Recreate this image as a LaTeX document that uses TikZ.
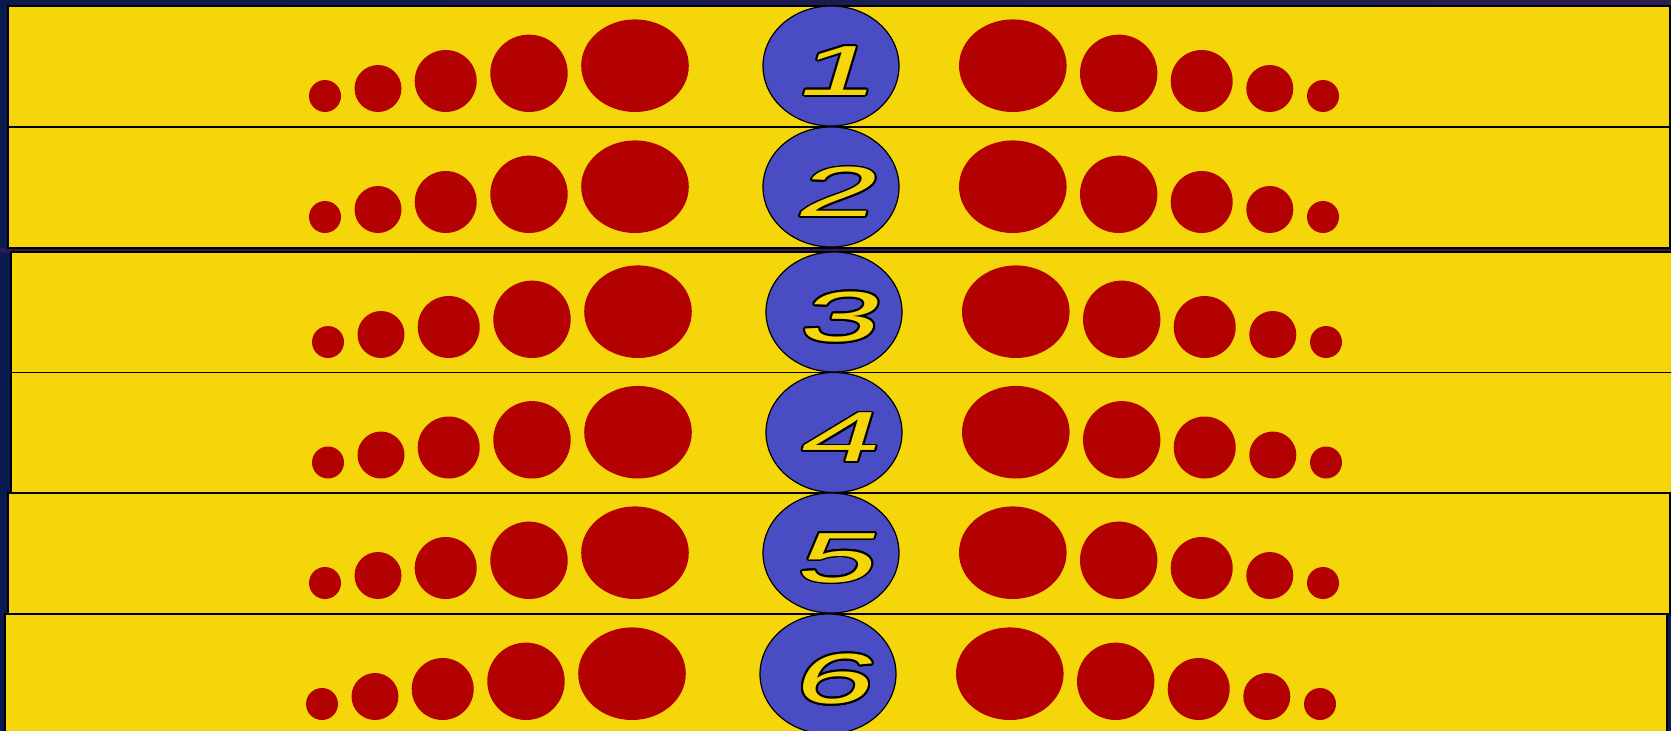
\documentclass[tikz,border=0pt]{standalone}
\usepackage{fontspec}
\usetikzlibrary{shapes.geometric,calc}
\newfontfamily\digitfont[FakeStretch=2.0,FakeSlant=0.3]{Liberation Sans}
\definecolor{bandyellow}{HTML}{F5D60B}
\definecolor{dotred}{HTML}{B30000}
\definecolor{ballblue}{HTML}{4A4CC4}
\definecolor{navy}{HTML}{0A1A4E}
\definecolor{plum}{HTML}{6E1F5E}
\definecolor{indigo}{HTML}{2A1E52}
\tikzset{
  band/.style={rectangle, draw=black, line width=1.5pt, fill=bandyellow, inner sep=0pt,
    minimum width=1662pt, minimum height=121pt},
  reddot/.style={circle, fill=dotred, inner sep=0pt, minimum size=#1},
  redegg/.style={ellipse, fill=dotred, inner sep=0pt, minimum width=107.6pt, minimum height=92.6pt},
  ball/.style={ellipse, draw=black, line width=1.2pt, fill=ballblue, inner sep=0pt,
    minimum width=136pt, minimum height=120pt},
  digitstyle/.style={inner sep=0pt, font=\digitfont\fontsize{71}{71}\selectfont},
}
\begin{document}
\begin{tikzpicture}[x=1pt,y=-1pt]
\useasboundingbox (0,0) rectangle (1671,731);
\fill[navy] (0,0) rectangle (1671,731);
\shade[left color=navy, middle color=plum, right color=indigo] (0,0) rectangle (1671,6);
\shade[left color=navy!70!plum, middle color=plum, right color=navy!60!plum] (0,248) rectangle (1671,252);
\foreach \r/\dx/\top in {1/0/6, 2/0/127, 3/3/252, 4/3/372.5, 5/0/493, 6/-3/614}{
  \begin{scope}[shift={(\dx,\top-6)}]
    \node[band] (band\r) at (839,66.5) {};
    \node[reddot=32pt] (la\r) at (325,96) {};
    \node[reddot=47pt] (lb\r) at (378,88.5) {};
    \node[reddot=62pt] (lc\r) at (445.7,81) {};
    \node[reddot=77.4pt] (ld\r) at (529,73.3) {};
    \node[redegg] (le\r) at (635,65.7) {};
    \node[redegg] (re\r) at (1012.8,65.7) {};
    \node[reddot=77.4pt] (rd\r) at (1118.7,73.3) {};
    \node[reddot=62pt] (rc\r) at (1201.7,81) {};
    \node[reddot=47pt] (rb\r) at (1269.8,88.5) {};
    \node[reddot=32pt] (ra\r) at (1323,96) {};
    \node[ball] (ball\r) at (831,66) {};
    \foreach \a in {0,22.5,...,337.5}{
      \node[digitstyle, text=black] (sh\r-\a) at ($(833,71)+(\a:1.7)$) {\r};
    }
    \node[digitstyle, text=bandyellow] (num\r) at (833,71) {\r};
  \end{scope}
}
\end{tikzpicture}
\end{document}
